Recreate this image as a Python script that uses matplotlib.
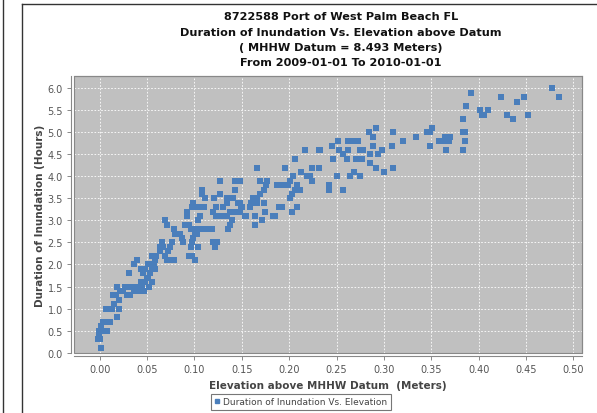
import matplotlib
matplotlib.use("Agg")
import matplotlib.pyplot as plt
from matplotlib.patches import Rectangle
from matplotlib.lines import Line2D

# Elevation above MHHW (m) and duration of inundation (h) for each event
elevation_m = [
    0.001, -0.002, 0.000, -0.001, 0.001, -0.001, 0.002, 0.004, 0.008, 0.011,
    0.008, 0.007, 0.018, 0.013, 0.015, 0.014, 0.017, 0.020, 0.021, 0.018, 0.022,
    0.027, 0.030, 0.025, 0.029, 0.034, 0.037, 0.041, 0.042, 0.044, 0.048,
    0.050, 0.051, 0.053, 0.055, 0.057, 0.058, 0.055, 0.057, 0.039, 0.036,
    0.044, 0.046, 0.048, 0.051, 0.058, 0.060, 0.064, 0.066, 0.067, 0.069,
    0.071, 0.074, 0.078, 0.072, 0.074, 0.076, 0.064, 0.069, 0.071, 0.078,
    0.080, 0.085, 0.031, 0.032, 0.036, 0.040, 0.045, 0.052, 0.055, 0.047,
    0.087, 0.088, 0.090, 0.092, 0.092, 0.094, 0.096, 0.099, 0.102, 0.101,
    0.099, 0.097, 0.096, 0.094, 0.101, 0.097, 0.099, 0.097, 0.101, 0.104,
    0.106, 0.106, 0.110, 0.108, 0.108, 0.111, 0.106, 0.110, 0.115, 0.119,
    0.120, 0.124, 0.122, 0.121, 0.127, 0.127, 0.123, 0.130, 0.134, 0.120,
    0.123, 0.128, 0.134, 0.140, 0.138, 0.136, 0.138, 0.143, 0.134, 0.141,
    0.143, 0.143, 0.146, 0.148, 0.149, 0.148, 0.104, 0.103,
    0.148, 0.150, 0.153, 0.155, 0.159, 0.160, 0.162, 0.166, 0.166, 0.169,
    0.173, 0.176, 0.177, 0.169, 0.173, 0.164, 0.164, 0.171, 0.175, 0.183,
    0.185, 0.189, 0.192, 0.203, 0.208, 0.166, 0.196, 0.206, 0.217, 0.213,
    0.219, 0.222, 0.224, 0.204, 0.201, 0.199, 0.194, 0.187, 0.206, 0.208,
    0.211, 0.203, 0.201, 0.231, 0.231,
    0.233, 0.224, 0.242, 0.257, 0.250, 0.264, 0.268, 0.275, 0.246, 0.253,
    0.257, 0.262, 0.261, 0.271, 0.275, 0.278, 0.277, 0.285, 0.294, 0.298,
    0.285, 0.292, 0.300, 0.310, 0.245, 0.289, 0.308, 0.252, 0.262, 0.266,
    0.269, 0.273, 0.320, 0.289, 0.284, 0.292, 0.310, 0.242,
    0.334, 0.345, 0.349, 0.351, 0.349, 0.358, 0.362, 0.364, 0.368, 0.369,
    0.370, 0.365, 0.383, 0.386, 0.386, 0.383, 0.383, 0.387, 0.392, 0.401,
    0.410, 0.403, 0.406, 0.424, 0.430, 0.436, 0.440, 0.448, 0.452, 0.477,
    0.485,
]
duration_h = [
    0.1, 0.3, 0.3, 0.4, 0.5, 0.5, 0.6, 0.7, 0.7, 0.7,
    0.5, 1.0, 0.8, 1.0, 1.1, 1.3, 1.3, 1.2, 1.0, 1.5, 1.4,
    1.5, 1.5, 1.4, 1.3, 1.5, 1.5, 1.5, 1.5, 1.6, 1.6,
    1.7, 1.7, 1.8, 1.9, 2.0, 2.1, 2.2, 2.2, 2.1, 2.0,
    1.9, 1.8, 1.9, 2.0, 1.9, 2.2, 2.4, 2.5, 2.4, 2.2,
    2.1, 2.1, 2.1, 2.3, 2.4, 2.5, 2.3, 3.0, 2.9, 2.8,
    2.7, 2.7, 1.8, 1.3, 1.4, 1.4, 1.5, 1.5, 1.6, 1.4,
    2.6, 2.5, 2.9, 3.1, 3.2, 2.9, 2.8, 2.8, 2.8, 2.7,
    2.6, 2.5, 2.4, 2.2, 2.1, 2.2, 3.4, 3.3, 3.3, 3.0,
    3.1, 3.3, 3.3, 3.6, 3.7, 3.5, 2.8, 2.8, 2.8, 2.8,
    2.5, 2.5, 2.4, 3.5, 3.6, 3.9, 3.3, 3.3, 3.4, 3.2,
    3.1, 3.1, 3.1, 3.0, 2.9, 2.8, 3.2, 3.2, 3.5, 3.5,
    3.7, 3.9, 3.4, 3.9, 3.3, 3.2, 2.4, 2.7,
    3.4, 3.3, 3.1, 3.1, 3.3, 3.4, 3.5, 3.5, 3.4, 3.6,
    3.7, 3.8, 3.9, 3.9, 3.4, 3.1, 2.9, 3.0, 3.2, 3.1,
    3.1, 3.3, 3.3, 3.2, 3.3, 4.2, 4.2, 4.4, 4.6, 4.1,
    4.0, 4.0, 3.9, 4.0, 3.9, 3.8, 3.8, 3.8, 3.7, 3.8,
    3.7, 3.6, 3.5, 4.2, 4.6,
    4.6, 4.2, 3.7, 3.7, 4.0, 4.0, 4.1, 4.0, 4.4, 4.6,
    4.5, 4.6, 4.4, 4.4, 4.6, 4.6, 4.4, 4.5, 4.5, 4.6,
    4.3, 4.2, 4.1, 4.2, 4.7, 4.7, 4.7, 4.8, 4.8, 4.8,
    4.8, 4.8, 4.8, 4.9, 5.0, 5.1, 5.0, 3.8,
    4.9, 5.0, 5.0, 5.1, 4.7, 4.8, 4.8, 4.9, 4.9, 4.8,
    4.9, 4.6, 5.0, 5.0, 4.8, 4.6, 5.3, 5.6, 5.9, 5.5,
    5.5, 5.4, 5.4, 5.8, 5.4, 5.3, 5.7, 5.8, 5.4, 6.0,
    5.8,
]

x_ticks = [0.00, 0.05, 0.10, 0.15, 0.20, 0.25, 0.30, 0.35, 0.40, 0.45, 0.50]
y_ticks = [0.0, 0.5, 1.0, 1.5, 2.0, 2.5, 3.0, 3.5, 4.0, 4.5, 5.0, 5.5, 6.0]

title_lines = [
    "8722588 Port of West Palm Beach FL",
    "Duration of Inundation Vs. Elevation above Datum",
    "( MHHW Datum = 8.493 Meters)",
    "From 2009-01-01 To 2010-01-01",
]
x_label = "Elevation above MHHW Datum  (Meters)"
y_label = "Duration of Inundation (Hours)"
series_name = "Duration of Inundation Vs. Elevation"

W, H = 597, 414
point_color = "#4a7ebb"
axis_gray = "#888888"
text_gray = "#444444"

plt.rcParams["font.family"] = ["DejaVu Sans"]

fig = plt.figure(figsize=(W / 100, H / 100), dpi=100)
fig.patch.set_facecolor("white")

# panel borders
fig.add_artist(Line2D([3 / W, 3 / W], [0, 1], color="#333333", lw=1.0))
fig.add_artist(Line2D([22 / W, 22 / W], [0, 1 - 5 / H], color="#333333", lw=1.0))
fig.add_artist(Line2D([22 / W, 1], [1 - 5 / H, 1 - 5 / H], color="#333333", lw=1.0))

left, right, top, bottom = 74, 582, 77, 354
ax = fig.add_axes([left / W, 1 - bottom / H, (right - left) / W, (bottom - top) / H])
ax.set_facecolor("#c0c0c0")

ax.scatter(elevation_m, duration_h, marker="s", s=18, color=point_color,
           linewidths=0, zorder=3)

ax.set_xlim(-0.027, 0.509)
ax.set_ylim(-0.01, 6.28)
ax.set_xticks(x_ticks)
ax.set_yticks(y_ticks)
ax.set_xticklabels([f"{v:.2f}" for v in x_ticks])
ax.set_yticklabels([f"{v:.1f}" for v in y_ticks])

ax.grid(True, color="white", linestyle=(0, (2, 2)), linewidth=0.6, zorder=1)
ax.set_axisbelow(True)

for side in ("top", "right"):
    ax.spines[side].set_color(axis_gray)
    ax.spines[side].set_linewidth(0.8)
for side in ("left", "bottom"):
    ax.spines[side].set_position(("outward", 2.5))
    ax.spines[side].set_color(axis_gray)
    ax.spines[side].set_linewidth(0.8)
# plot outline
ax.add_patch(Rectangle((0, 0), 1, 1, transform=ax.transAxes, fill=False,
                       edgecolor=axis_gray, lw=0.8, zorder=4, clip_on=False))

ax.tick_params(axis="both", direction="out", length=3, width=0.7,
               color=axis_gray, labelcolor="#555555", labelsize=7, pad=2.5)

ax.set_xlabel(x_label, fontsize=7.5, fontweight="bold", color=text_gray, labelpad=4)
ax.set_ylabel(y_label, fontsize=7.5, fontweight="bold", color=text_gray, labelpad=2)

title_y = [17, 33, 48, 63]
for line, yy in zip(title_lines, title_y):
    fig.text(341 / W, 1 - yy / H, line, ha="center", va="center",
             fontsize=8.1, fontweight="bold", color="#111111")

leg = ax.legend([Line2D([], [], marker="s", linestyle="none", color=point_color,
                        markersize=3.5)],
                [series_name], loc="center", bbox_to_anchor=(301 / W, 1 - 403 / H),
                bbox_transform=fig.transFigure, fontsize=6.5, frameon=True,
                fancybox=False, handlelength=0.6, handletextpad=0.4,
                borderpad=0.35, borderaxespad=0)
leg.get_frame().set_edgecolor("#555555")
leg.get_frame().set_linewidth(0.8)
for t in leg.get_texts():
    t.set_color(text_gray)

fig.savefig("out.png", dpi=100)
